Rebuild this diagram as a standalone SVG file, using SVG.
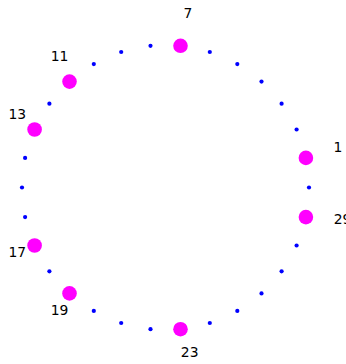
<svg xmlns="http://www.w3.org/2000/svg" width="346" height="364" viewBox="0 0 346 364">
<style>
.s{fill:#0000ff}
.u{fill:#ff00ff}
text{font-family:"DejaVu Sans",sans-serif;font-size:13.9px;fill:#000;text-anchor:middle}
</style>
<rect width="346" height="364" fill="#fff"/>
<g id="n0"><circle class="s" cx="309" cy="187.5" r="2.1"/></g>
<g id="n1"><circle class="u" cx="305.9" cy="157.9" r="7.3"/><text x="338" y="152">1</text></g>
<g id="n2"><circle class="s" cx="296.6" cy="129.5" r="2.1"/></g>
<g id="n3"><circle class="s" cx="281.6" cy="103.7" r="2.1"/></g>
<g id="n4"><circle class="s" cx="261.5" cy="81.6" r="2.1"/></g>
<g id="n5"><circle class="s" cx="237.3" cy="64.1" r="2.1"/></g>
<g id="n6"><circle class="s" cx="209.8" cy="52.0" r="2.1"/></g>
<g id="n7"><circle class="u" cx="180.5" cy="45.8" r="7.3"/><text x="188" y="18.3">7</text></g>
<g id="n8"><circle class="s" cx="150.5" cy="45.8" r="2.1"/></g>
<g id="n9"><circle class="s" cx="121.2" cy="52.0" r="2.1"/></g>
<g id="n10"><circle class="s" cx="93.8" cy="64.1" r="2.1"/></g>
<g id="n11"><circle class="u" cx="69.5" cy="81.6" r="7.3"/><text x="59.5" y="61">11</text></g>
<g id="n12"><circle class="s" cx="49.4" cy="103.7" r="2.1"/></g>
<g id="n13"><circle class="u" cx="34.6" cy="129.5" r="7.3"/><text x="17.3" y="118.5">13</text></g>
<g id="n14"><circle class="s" cx="25.1" cy="157.9" r="2.1"/></g>
<g id="n15"><circle class="s" cx="22" cy="187.5" r="2.1"/></g>
<g id="n16"><circle class="s" cx="25.1" cy="217.1" r="2.1"/></g>
<g id="n17"><circle class="u" cx="34.6" cy="245.5" r="7.3"/><text x="17.3" y="256.7">17</text></g>
<g id="n18"><circle class="s" cx="49.4" cy="271.3" r="2.1"/></g>
<g id="n19"><circle class="u" cx="69.5" cy="293.4" r="7.3"/><text x="59.5" y="314.7">19</text></g>
<g id="n20"><circle class="s" cx="93.8" cy="310.9" r="2.1"/></g>
<g id="n21"><circle class="s" cx="121.2" cy="323.0" r="2.1"/></g>
<g id="n22"><circle class="s" cx="150.5" cy="329.2" r="2.1"/></g>
<g id="n23"><circle class="u" cx="180.5" cy="329.2" r="7.3"/><text x="189.7" y="357">23</text></g>
<g id="n24"><circle class="s" cx="209.8" cy="323.0" r="2.1"/></g>
<g id="n25"><circle class="s" cx="237.3" cy="310.9" r="2.1"/></g>
<g id="n26"><circle class="s" cx="261.5" cy="293.4" r="2.1"/></g>
<g id="n27"><circle class="s" cx="281.6" cy="271.3" r="2.1"/></g>
<g id="n28"><circle class="s" cx="296.6" cy="245.5" r="2.1"/></g>
<g id="n29"><circle class="u" cx="305.9" cy="217.1" r="7.3"/><text x="342.5" y="223.5">29</text></g>
</svg>
